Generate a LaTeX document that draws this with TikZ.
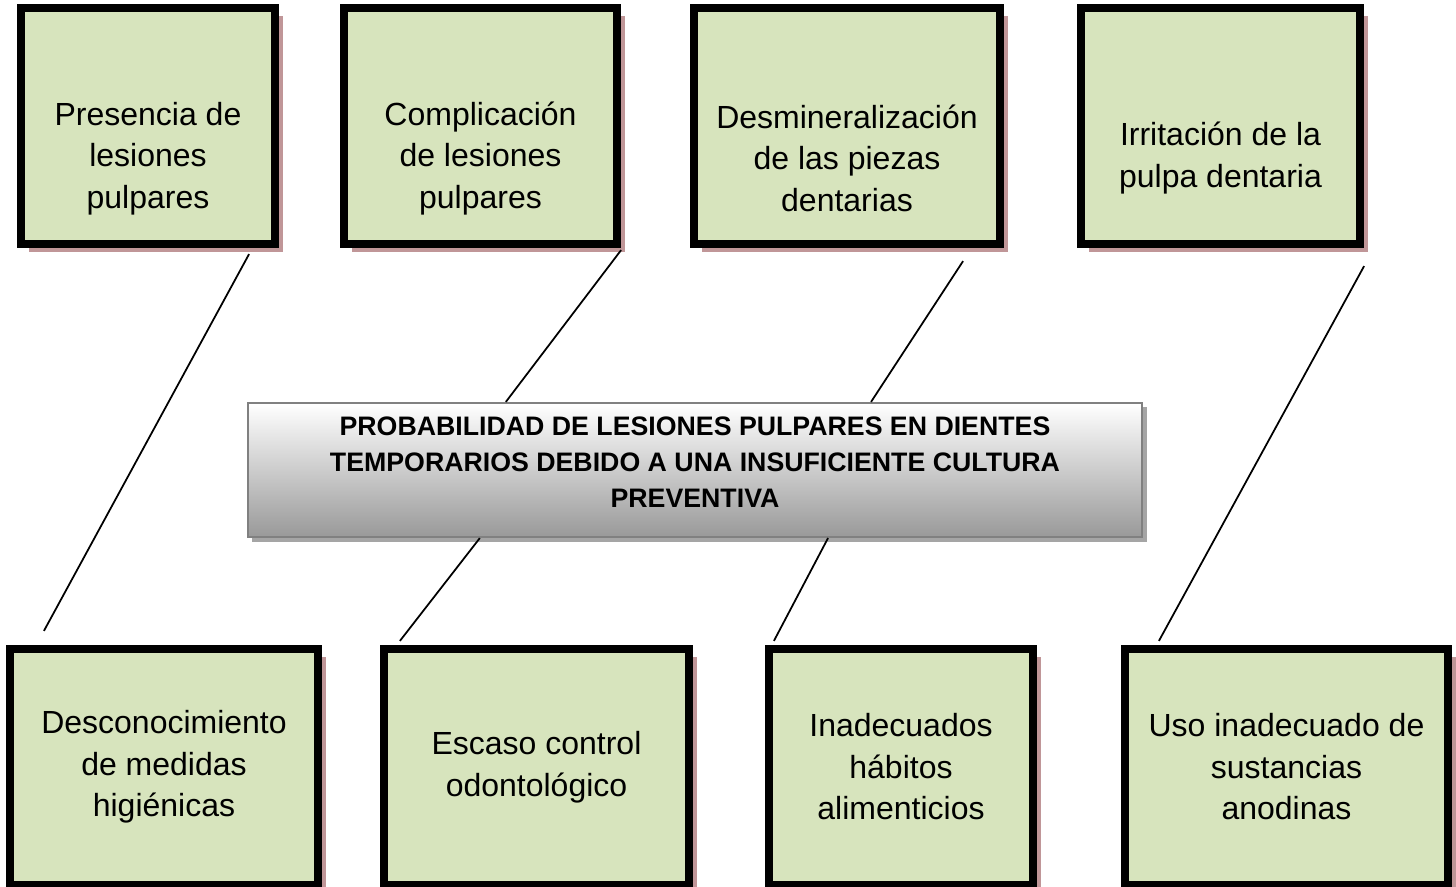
\documentclass[tikz,border=0pt]{standalone}
\usepackage{fontspec}
\setmainfont{Liberation Sans}
\usetikzlibrary{shadows}

\definecolor{boxgreen}{RGB}{215,228,189}
\definecolor{boxshade}{RGB}{192,150,152}
\definecolor{coreshade}{RGB}{165,165,165}
\newcommand{\dropline}{\rule{0pt}{25pt}}

\begin{document}
\begin{tikzpicture}[
    x=0.01cm, y=-0.01cm,
    box/.style={rectangle, draw=black, line width=2.4pt, fill=boxgreen, minimum height=2.356cm, inner sep=0pt, align=center, font=\fontsize{9.1}{11.8}\selectfont, drop shadow={shadow xshift=0.08cm, shadow yshift=-0.08cm, fill=boxshade, opacity=1}},
    core/.style={rectangle, draw=black!50, line width=0.6pt, top color=white, bottom color=black!40, minimum width=8.94cm, minimum height=1.34cm, align=center, font=\fontsize{7.6}{10.2}\selectfont\bfseries, drop shadow={shadow xshift=0.045cm, shadow yshift=-0.045cm, fill=coreshade, opacity=1}},
    link/.style={line width=0.5pt}
]
\useasboundingbox (0,0) rectangle (1456,887);

% causes on top
\node[box, minimum width=2.536cm] (t1) at (148,126) {\dropline Presencia de\\lesiones\\pulpares};
\node[box, minimum width=2.726cm] (t2) at (480.5,126) {\dropline Complicación\\de lesiones\\pulpares};
\node[box, minimum width=3.056cm] (t3) at (847,126) {\dropline Desmineralización\\de las piezas\\dentarias};
\node[box, minimum width=2.786cm] (t4) at (1220.5,126) {\dropline Irritación de la\\pulpa dentaria};

% problem
\node[core] (prob) at (695,470) {PROBABILIDAD DE LESIONES PULPARES EN DIENTES\\TEMPORARIOS DEBIDO A UNA INSUFICIENTE CULTURA\\PREVENTIVA\rule[-4.5pt]{0pt}{0pt}};

% causes below
\node[box, minimum width=3.076cm] (b1) at (164,767) {Desconocimiento\\de medidas\\higiénicas};
\node[box, minimum width=3.046cm] (b2) at (536.5,767) {Escaso control\\odontológico};
\node[box, minimum width=2.636cm] (b3) at (901,767) {Inadecuados\\hábitos\\alimenticios};
\node[box, minimum width=3.226cm] (b4) at (1286.5,767) {Uso inadecuado de\\sustancias\\anodinas};

\draw[link] ([xshift=-0.3cm, yshift=-0.06cm]t1.south east) -- ([xshift=0.38cm, yshift=0.14cm]b1.north west);
\draw[link] ([yshift=-0.02cm]t2.south east) -- ([xshift=2.59cm]prob.north west);
\draw[link] ([xshift=2.33cm]prob.south west) -- ([xshift=0.2cm, yshift=0.04cm]b2.north west);
\draw[link] ([xshift=-0.41cm, yshift=-0.13cm]t3.south east) -- ([xshift=6.24cm]prob.north west);
\draw[link] ([xshift=5.81cm]prob.south west) -- ([xshift=0.09cm, yshift=0.04cm]b3.north west);
\draw[link] ([yshift=-0.18cm]t4.south east) -- ([xshift=0.38cm, yshift=0.04cm]b4.north west);
\end{tikzpicture}
\end{document}
